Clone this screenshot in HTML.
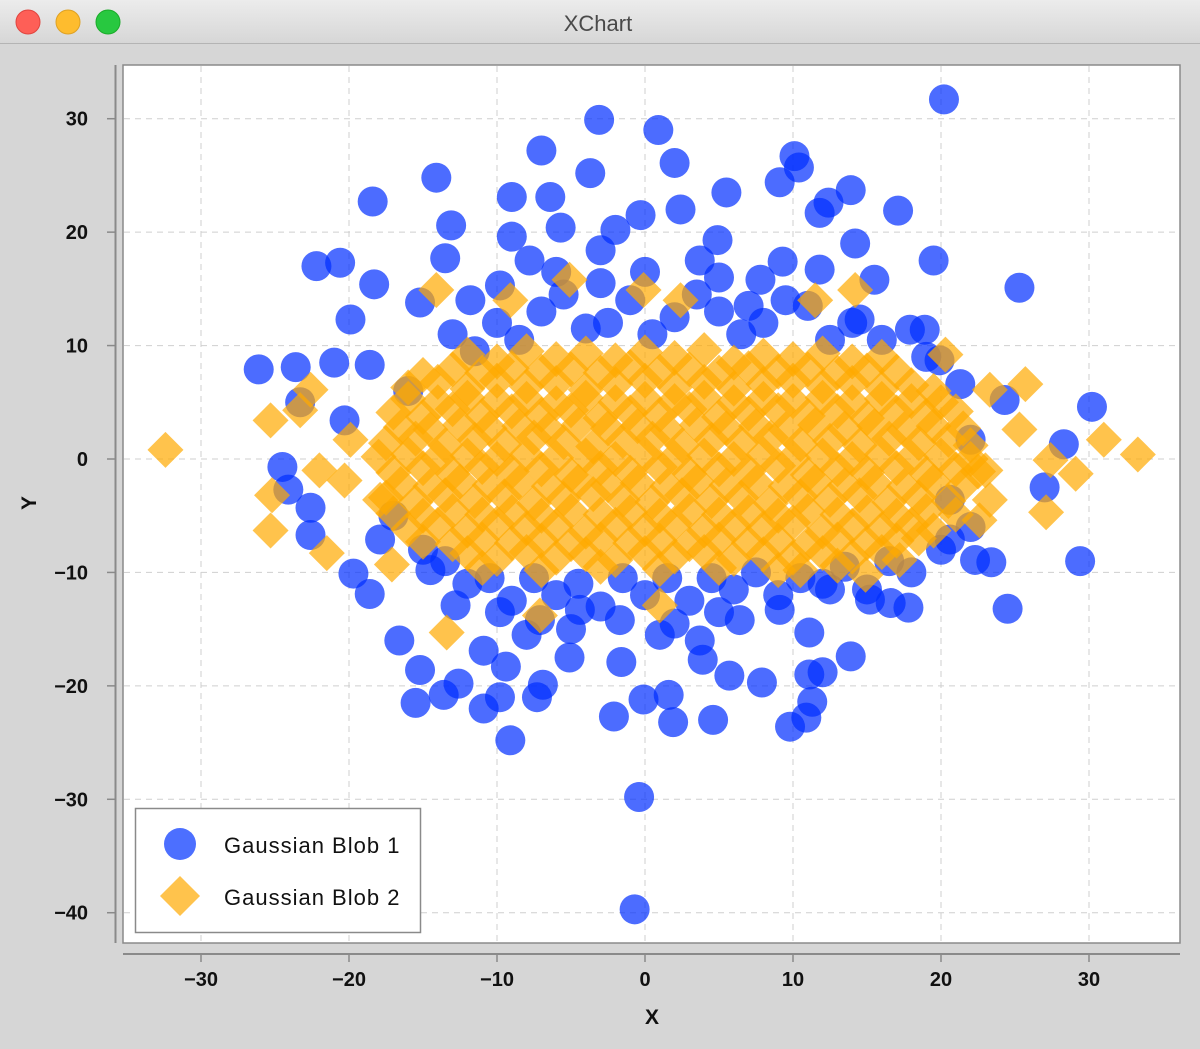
<!DOCTYPE html>
<html><head><meta charset="utf-8"><style>
body{margin:0;background:#d6d6d6;width:1200px;height:1044px;overflow:hidden;font-family:"Liberation Sans",sans-serif}
</style></head><body>
<svg id="c" width="1200" height="1044" xmlns="http://www.w3.org/2000/svg">
<defs>
<linearGradient id="tb" x1="0" y1="0" x2="0" y2="1"><stop offset="0" stop-color="#ececec"/><stop offset="1" stop-color="#d6d6d6"/></linearGradient>
<clipPath id="pc"><rect x="123" y="65" width="1057" height="878"/></clipPath>
</defs>
<rect x="0" y="0" width="1200" height="44" fill="url(#tb)"/>
<line x1="0" y1="43.5" x2="1200" y2="43.5" stroke="#b4b4b4"/>
<circle cx="28" cy="22" r="12" fill="#fe5f57" stroke="#e0443e"/>
<circle cx="68" cy="22" r="12" fill="#febc2e" stroke="#dea123"/>
<circle cx="108" cy="22" r="12" fill="#28c840" stroke="#1aab29"/>
<text x="598" y="31" text-anchor="middle" font-size="22" fill="#4a4a4a">XChart</text>
<rect x="123" y="65" width="1057" height="878" fill="#fff" stroke="#8a8a8a" stroke-width="1.5"/>
<g id="grid"></g>
<g id="pts" clip-path="url(#pc)"></g>
<line x1="115.5" y1="65" x2="115.5" y2="943" stroke="#8a8a8a" stroke-width="2"/>
<line x1="123" y1="954" x2="1180" y2="954" stroke="#8a8a8a" stroke-width="2"/>
<g id="ticks"></g>
<text x="652" y="1024" text-anchor="middle" font-size="21" font-weight="bold" fill="#111">X</text>
<text x="36" y="503" text-anchor="middle" font-size="21" font-weight="bold" fill="#111" transform="rotate(-90 36 503)">Y</text>
<g>
<rect x="135.5" y="808.5" width="285" height="124" fill="#fff" stroke="#8a8a8a" stroke-width="1.5"/>
<circle cx="180" cy="844" r="16" fill="rgba(0,50,255,0.7)"/>
<text x="224" y="853" font-size="22" fill="#111" letter-spacing="1">Gaussian Blob 1</text>
<polygon points="180,876 200,896 180,916 160,896" fill="rgba(255,170,0,0.7)"/>
<text x="224" y="905" font-size="22" fill="#111" letter-spacing="1">Gaussian Blob 2</text>
</g>
</svg>
<script>
const xTicks=[-30,-20,-10,0,10,20,30];
const yTicks=[30,20,10,0,-10,-20,-30,-40];
const blob1=[[20.2,31.7],[-3.1,29.9],[0.9,29.0],[-7.0,27.2],[2.0,26.1],[10.1,26.7],[10.4,25.7],[-14.1,24.8],[-3.7,25.2],[9.1,24.4],[13.9,23.7],[-18.4,22.7],[-9.0,23.1],[-6.4,23.1],[5.5,23.5],[12.4,22.6],[17.1,21.9],[11.8,21.7],[-13.1,20.6],[-9.0,19.6],[-5.7,20.4],[-2.0,20.2],[4.9,19.3],[14.2,19.0],[-22.2,17.0],[-20.6,17.3],[-13.5,17.7],[19.5,17.5],[-18.3,15.4],[9.3,17.4],[25.3,15.1],[-15.2,13.8],[-19.9,12.3],[-26.1,7.9],[-23.6,8.1],[-21.0,8.5],[21.3,6.6],[30.2,4.6],[-24.5,-0.7],[28.3,1.3],[-19.7,-10.1],[-18.6,-11.9],[29.4,-9.0],[24.5,-13.2],[-16.6,-16.0],[-15.2,-18.6],[-15.5,-21.5],[-13.6,-20.8],[-12.6,-19.8],[-10.9,-16.9],[-10.9,-22.0],[-9.4,-18.3],[-9.8,-21.0],[-9.1,-24.8],[-7.3,-21.0],[-6.9,-19.9],[-5.1,-17.5],[-2.1,-22.7],[-1.6,-17.9],[-0.1,-21.2],[1.6,-20.8],[1.9,-23.2],[4.6,-23.0],[3.9,-17.7],[5.7,-19.1],[7.9,-19.7],[9.8,-23.6],[10.9,-22.8],[11.3,-21.4],[11.1,-19.0],[12.0,-18.8],[11.1,-15.3],[13.9,-17.4],[-0.4,-29.8],[-0.7,-39.7],[16.6,-12.7],[17.8,-13.1],[23.4,-9.1],[27.0,-2.5],[24.3,5.2],[-18.6,8.3],[-20.3,3.4],[-23.3,5.0],[-24.1,-2.7],[-22.6,-4.3],[-22.6,-6.7],[-17.9,-7.1],[20.6,-7.1],[22.3,-8.9],[15.2,-12.4],[12.5,-11.5],[9.1,-13.3],[6.4,-14.2],[3.7,-16.0],[1.0,-15.5],[-1.7,-14.2],[-4.4,-13.3],[-7.1,-14.2],[-9.8,-13.5],[-12.8,-12.9],[-14.5,-9.8],[-11.8,14.0],[-9.8,15.3],[-7.8,17.5],[-3.0,18.4],[-0.3,21.5],[2.4,22.0],[3.7,17.5],[7.8,15.8],[11.8,16.7],[15.5,15.8],[14.5,12.3],[17.9,11.4],[18.9,11.4],[19.9,8.7],[22.0,1.7],[20.6,-3.6],
[-10,12],[-7,13],[-4,11.5],[-1,14],[2,12.5],[5,13],[8,12],[11,13.5],[14,12],[-13,11],[16,10.5],
[-8.5,10.5],[-5.5,14.5],[-2.5,12],[0.5,11],[3.5,14.5],[6.5,11],[9.5,14],[12.5,10.5],[-11.5,9.5],[-6,16.5],[0,16.5],[5,16],[-3,15.5],[7,13.5],
[-12,-11],[-9,-12.5],[-6,-12],[-3,-13],[0,-12],[3,-12.5],[6,-11.5],[9,-12],[12,-11],[15,-11.5],[18,-10],[-15,-8],[20,-8],[22,-6],[-17,-5],[-16,6],[19,9],
[-10.5,-10.5],[-7.5,-10.5],[-4.5,-11],[-1.5,-10.5],[1.5,-10.5],[4.5,-10.5],[7.5,-10],[10.5,-10.5],[13.5,-9.5],[-13.5,-9],[-5,-15],[2,-14.5],[5,-13.5],[-8,-15.5],[16.5,-9]];
const blob2=[[-32.4,0.8],[33.3,0.4],[31.0,1.7],[29.1,-1.3],[27.1,-4.7],[25.7,6.6],[-13.4,-15.3],[-25.3,3.4],[-25.3,-6.3],[-25.2,-3.2],[-21.5,-8.3],[-17.1,-9.3],[-14.1,14.9],[-5.1,15.8],[-9.1,14.0],[-0.1,14.9],[2.4,14.0],[11.5,14.0],[14.2,14.9],[20.3,9.2],[1.0,-12.9],[10.5,-9.8],[14.9,-10.2],[-7.1,-13.8],[-22.6,6.1],[-22.0,-1.0],[-23.3,4.3],[23.3,6.1],[25.3,2.6],[22.6,-5.4],[23.0,-1.0],[27.4,-0.1],[-19.9,1.7],[-20.3,-1.9],[-17.9,-3.6],[23.3,-3.6],[17.2,-8.9],
[-12,9.2],[-10,8.6],[-8,9.5],[-6,8.8],[-4,9.3],[-2,8.7],[0,9.4],[2,8.9],[4,9.6],[6,8.5],[8,9.1],[10,8.8],[12,9.3],[14,8.6],[16,9.0],
[-16,6.3],[-14,6.8],[-12,6.2],[-10,6.9],[-8,6.4],[-6,6.7],[-4,6.1],[-2,6.6],[0,6.9],[2,6.3],[4,6.8],[6,6.2],[8,6.6],[10,6.9],[12,6.4],[14,6.7],[16,6.2],[18,6.5],[19.5,6.0],
[-17,4.1],[-15,3.7],[-13,4.4],[-11,3.8],[-9,4.2],[-7,3.9],[-5,4.3],[-3,3.6],[-1,4.1],[1,3.9],[3,4.4],[5,3.7],[7,4.0],[9,4.3],[11,3.8],[13,4.2],[15,3.6],[17,4.1],[19,3.8],[21,4.2],
[-17.5,1.4],[-15.5,1.8],[-13.5,1.2],[-11.5,1.7],[-9.5,1.3],[-7.5,1.9],[-5.5,1.5],[-3.5,1.1],[-1.5,1.6],[0.5,1.8],[2.5,1.2],[4.5,1.7],[6.5,1.4],[8.5,1.9],[10.5,1.3],[12.5,1.6],[14.5,1.2],[16.5,1.8],[18.5,1.4],[20.5,1.7],[22,1.2],
[-17,-1.2],[-15,-0.8],[-13,-1.3],[-11,-0.7],[-9,-1.1],[-7,-0.9],[-5,-1.4],[-3,-0.8],[-1,-1.2],[1,-0.7],[3,-1.3],[5,-0.9],[7,-1.1],[9,-0.6],[11,-1.4],[13,-0.9],[15,-1.2],[17,-0.8],[19,-1.3],[21,-0.9],[22.5,-1.1],
[-17.5,-3.4],[-15.5,-3.8],[-13.5,-3.2],[-11.5,-3.7],[-9.5,-3.3],[-7.5,-3.9],[-5.5,-3.5],[-3.5,-3.1],[-1.5,-3.6],[0.5,-3.8],[2.5,-3.2],[4.5,-3.7],[6.5,-3.4],[8.5,-3.9],[10.5,-3.3],[12.5,-3.6],[14.5,-3.2],[16.5,-3.8],[18.5,-3.4],[20.5,-3.7],
[-16,-6.2],[-14,-5.8],[-12,-6.3],[-10,-5.7],[-8,-6.1],[-6,-5.9],[-4,-6.4],[-2,-5.8],[0,-6.2],[2,-5.7],[4,-6.3],[6,-5.9],[8,-6.1],[10,-5.6],[12,-6.4],[14,-5.9],[16,-6.2],[18,-5.8],[19.5,-6.3],
[-12,-8.3],[-10,-8.8],[-8,-8.2],[-6,-8.7],[-4,-8.4],[-2,-8.9],[0,-8.3],[2,-8.6],[4,-8.2],[6,-8.8],[8,-8.4],[10,-8.7],[12,-8.3],[14,-8.6],[16,-8.2],
[-13,7.9],[-11,7.6],[-9,8.0],[-7,7.7],[-5,7.9],[-3,7.6],[-1,8.1],[1,7.7],[3,7.9],[5,7.6],[7,8.0],[9,7.7],[11,7.9],[13,7.6],[15,7.8],[17,7.7],[-15,7.4],
[-16,5.3],[-14,5.0],[-12,5.4],[-10,5.1],[-8,5.3],[-6,4.9],[-4,5.4],[-2,5.0],[0,5.3],[2,5.1],[4,5.4],[6,5.0],[8,5.3],[10,5.1],[12,5.4],[14,5.0],[16,5.3],[18,5.1],[20,5.0],
[-16.5,2.8],[-14.5,2.6],[-12.5,3.0],[-10.5,2.7],[-8.5,2.9],[-6.5,2.6],[-4.5,3.0],[-2.5,2.7],[-0.5,2.9],[1.5,2.6],[3.5,3.0],[5.5,2.7],[7.5,2.9],[9.5,2.6],[11.5,3.0],[13.5,2.7],[15.5,2.9],[17.5,2.6],[19.5,2.9],[21.5,2.7],
[-18,0.2],[-16,0.4],[-14,0.1],[-12,0.3],[-10,0.0],[-8,0.4],[-6,0.1],[-4,0.3],[-2,0.0],[0,0.4],[2,0.1],[4,0.3],[6,0.0],[8,0.4],[10,0.1],[12,0.3],[14,0.0],[16,0.4],[18,0.1],[20,0.3],[22,0.0],
[-16.5,-2.2],[-14.5,-2.4],[-12.5,-2.0],[-10.5,-2.3],[-8.5,-2.1],[-6.5,-2.4],[-4.5,-2.0],[-2.5,-2.3],[-0.5,-2.1],[1.5,-2.4],[3.5,-2.0],[5.5,-2.3],[7.5,-2.1],[9.5,-2.4],[11.5,-2.0],[13.5,-2.3],[15.5,-2.1],[17.5,-2.4],[19.5,-2.0],[21.5,-2.3],
[-17,-4.8],[-15,-5.0],[-13,-4.6],[-11,-4.9],[-9,-4.7],[-7,-5.0],[-5,-4.6],[-3,-4.9],[-1,-4.7],[1,-5.0],[3,-4.6],[5,-4.9],[7,-4.7],[9,-5.0],[11,-4.6],[13,-4.9],[15,-4.7],[17,-5.0],[19,-4.6],[21,-4.9],
[-15,-7.3],[-13,-7.5],[-11,-7.1],[-9,-7.4],[-7,-7.2],[-5,-7.5],[-3,-7.1],[-1,-7.4],[1,-7.2],[3,-7.5],[5,-7.1],[7,-7.4],[9,-7.2],[11,-7.5],[13,-7.1],[15,-7.4],[17,-7.2],[18.5,-7.0],
[-11,-9.6],[-7,-9.8],[-3,-9.5],[1,-9.7],[5,-9.6],[9,-9.8],[13,-9.4]];
const NS='http://www.w3.org/2000/svg';
function sx(v){return 645+v*14.8;}
function sy(v){return 459-v*11.343;}
function mk(t,a,p){const e=document.createElementNS(NS,t);for(const k in a)e.setAttribute(k,a[k]);p.appendChild(e);return e;}
const grid=document.getElementById('grid'),ticks=document.getElementById('ticks'),pts=document.getElementById('pts');
xTicks.forEach(v=>{const x=sx(v);
 const g=mk('line',{x1:x,y1:66,x2:x,y2:942,stroke:'#cfcfcf','stroke-dasharray':'6,5'},grid);
 
 
 mk('line',{x1:x,y1:954,x2:x,y2:962,stroke:'#8a8a8a','stroke-width':1.5},ticks);
 const t=mk('text',{x:x,y:986,'text-anchor':'middle','font-size':20,'font-weight':'bold',fill:'#111'},ticks);
 t.textContent=(v<0?'\u2212':'')+Math.abs(v);
 
 });
yTicks.forEach(v=>{const y=sy(v);
 const g=mk('line',{x1:124,y1:y,x2:1179,y2:y,stroke:'#cfcfcf','stroke-dasharray':'6,5'},grid);
 
 
 mk('line',{x1:107,y1:y,x2:115,y2:y,stroke:'#8a8a8a','stroke-width':1.5},ticks);
 const t=mk('text',{x:88,y:y+7,'text-anchor':'end','font-size':20,'font-weight':'bold',fill:'#111'},ticks);
 t.textContent=(v<0?'\u2212':'')+Math.abs(v);
 
 });
blob1.forEach(p=>{const c=mk('circle',{cx:sx(p[0]),cy:sy(p[1]),r:15,fill:'rgba(0,45,255,0.7)'},pts);
 
 });
blob2.forEach(p=>{const x=sx(p[0]),y=sy(p[1]);
 const d=mk('polygon',{points:`${x},${y-18} ${x+18},${y} ${x},${y+18} ${x-18},${y}`,fill:'rgba(255,170,0,0.7)'},pts);
 
 });
</script>
</body></html>
